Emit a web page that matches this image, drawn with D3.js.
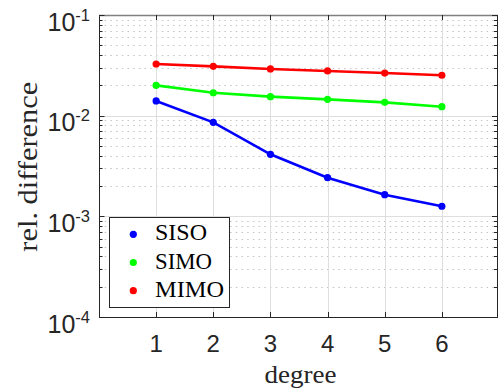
<!DOCTYPE html>
<html>
<head>
<meta charset="utf-8">
<script src="https://cdn.jsdelivr.net/npm/d3@7"></script>
<style>
  html, body { margin: 0; padding: 0; background: #fff; }
  svg { display: block; }
  .sans { font-family: "Liberation Sans", Arial, Helvetica, sans-serif; }
  .serif { font-family: "Liberation Serif", "Times New Roman", Times, serif; }
</style>
</head>
<body>
<svg id="chart" width="498" height="392"></svg>
<script>
// ---- data ----
const degrees = [1, 2, 3, 4, 5, 6];
const siso = [0.0140, 0.00859, 0.00413, 0.00242, 0.00164, 0.00126];
const simo = [0.0200, 0.0169, 0.01545, 0.01453, 0.01356, 0.01228];
const mimo = [0.0326, 0.0309, 0.0291, 0.0278, 0.0265, 0.0252];
const seriesNames = ["SISO", "SIMO", "MIMO"];
const seriesColors = ["#0000ff", "#00ff00", "#ff0000"];
const xTicks = [1, 2, 3, 4, 5, 6];
const yTickExps = [-4, -3, -2, -1];
const xLabel = "degree";
const yLabel = "rel. difference";

const seriesValues = [siso, simo, mimo];

const svg = d3.select("#chart");
const L = 99, R = 499, T = 15, B = 317;
const x = d3.scaleLinear().domain([0, 7]).range([L, R]);
const y = d3.scaleLog().domain([1e-4, 1e-1]).range([B, T]);
const axisColor = "#262626";

// minor gridlines (dotted)
const minorVals = [];
for (let e = -4; e < -1; e++) for (let m = 2; m <= 9; m++) minorVals.push(m * Math.pow(10, e));
svg.append("g").selectAll("line").data(minorVals).join("line")
  .attr("x1", L).attr("x2", R)
  .attr("y1", d => Math.round(y(d)) + 0.5).attr("y2", d => Math.round(y(d)) + 0.5)
  .attr("stroke", "#c4c4c4").attr("stroke-width", 1)
  .attr("stroke-dasharray", "1.5,4.2");

// major gridlines
const majorY = yTickExps.map(e => Math.pow(10, e));
svg.append("g").selectAll("line").data(majorY).join("line")
  .attr("x1", L).attr("x2", R)
  .attr("y1", d => Math.round(y(d)) + 0.5).attr("y2", d => Math.round(y(d)) + 0.5)
  .attr("stroke", "#dedede").attr("stroke-width", 1);
svg.append("g").selectAll("line").data(xTicks).join("line")
  .attr("x1", d => Math.round(x(d)) + 0.5).attr("x2", d => Math.round(x(d)) + 0.5)
  .attr("y1", T).attr("y2", B)
  .attr("stroke", "#dedede").attr("stroke-width", 1);

// series
const line = d3.line().x((d, i) => x(degrees[i])).y(d => y(d));
seriesValues.forEach((vals, k) => {
  svg.append("path").datum(vals)
    .attr("d", line).attr("fill", "none")
    .attr("stroke", seriesColors[k]).attr("stroke-width", 2.6);
  svg.append("g").selectAll("circle").data(vals).join("circle")
    .attr("cx", (d, i) => x(degrees[i])).attr("cy", d => y(d))
    .attr("r", 3.6).attr("fill", seriesColors[k]);
});

// axes frame
const frame = svg.append("g").attr("stroke", axisColor).attr("stroke-width", 1).attr("fill", "none");
frame.append("line").attr("x1", L + 0.5).attr("x2", L + 0.5).attr("y1", T).attr("y2", B + 0.5);
frame.append("line").attr("x1", L).attr("x2", R).attr("y1", B + 0.5).attr("y2", B + 0.5);
frame.append("line").attr("x1", L).attr("x2", R).attr("y1", T + 0.5).attr("y2", T + 0.5).attr("stroke", "#808080").attr("stroke-width", 1.5);
frame.append("line").attr("x1", 497.5).attr("x2", 497.5).attr("y1", T).attr("y2", B);

// y ticks (inward, left and right)
minorVals.forEach(v => {
  const yy = Math.round(y(v)) + 0.5;
  frame.append("line").attr("x1", L).attr("x2", L + 3.5).attr("y1", yy).attr("y2", yy);
  frame.append("line").attr("x1", 497.5).attr("x2", 494).attr("y1", yy).attr("y2", yy);
});
majorY.forEach(v => {
  const yy = Math.round(y(v)) + 0.5;
  frame.append("line").attr("x1", L).attr("x2", L + 5.5).attr("y1", yy).attr("y2", yy);
  frame.append("line").attr("x1", 497.5).attr("x2", 492).attr("y1", yy).attr("y2", yy);
});
// x ticks (inward, bottom and top)
xTicks.forEach(v => {
  const xx = Math.round(x(v)) + 0.5;
  frame.append("line").attr("x1", xx).attr("x2", xx).attr("y1", B).attr("y2", B - 5);
  frame.append("line").attr("x1", xx).attr("x2", xx).attr("y1", T).attr("y2", T + 5);
});

// x tick labels
svg.append("g").attr("class", "sans").selectAll("text").data(xTicks).join("text")
  .attr("x", d => x(d)).attr("y", 352)
  .attr("text-anchor", "middle")
  .attr("font-size", 24).attr("fill", axisColor)
  .text(d => d);

// y tick labels: 10^e
const yl = svg.append("g").attr("class", "sans").attr("fill", axisColor);
yTickExps.forEach(e => {
  const yy = y(Math.pow(10, e));
  const t = yl.append("text").attr("x", 90).attr("y", yy + 15.5).attr("text-anchor", "end");
  t.append("tspan").attr("font-size", 25).text("10");
  t.append("tspan").attr("font-size", 16.5).attr("dy", -10).text(String(e));
});

// axis labels
svg.append("text").attr("class", "serif")
  .attr("x", 300.5).attr("y", 382.5)
  .attr("text-anchor", "middle")
  .attr("font-size", 26).attr("fill", axisColor)
  .attr("textLength", 72).attr("lengthAdjust", "spacingAndGlyphs")
  .text(xLabel);
svg.append("text").attr("class", "serif")
  .attr("transform", "translate(37,166.7) rotate(-90)")
  .attr("text-anchor", "middle")
  .attr("font-size", 28).attr("fill", axisColor)
  .attr("textLength", 170).attr("lengthAdjust", "spacingAndGlyphs")
  .text(yLabel);

// legend
const leg = svg.append("g");
leg.append("rect").attr("x", 109.5).attr("y", 217.5).attr("width", 120).attr("height", 90)
  .attr("fill", "#fff").attr("stroke", axisColor).attr("stroke-width", 1);
const legW = [52, 57, 69];
seriesNames.forEach((name, k) => {
  const cy = 234.3 + k * 28.2;
  leg.append("circle").attr("cx", 133.3).attr("cy", cy).attr("r", 3.6).attr("fill", seriesColors[k]);
  leg.append("text").attr("class", "serif").attr("x", 155).attr("y", cy + 6)
    .attr("font-size", 23.5).attr("fill", "#000")
    .attr("textLength", legW[k]).attr("lengthAdjust", "spacingAndGlyphs")
    .text(name);
});
</script>
</body>
</html>
